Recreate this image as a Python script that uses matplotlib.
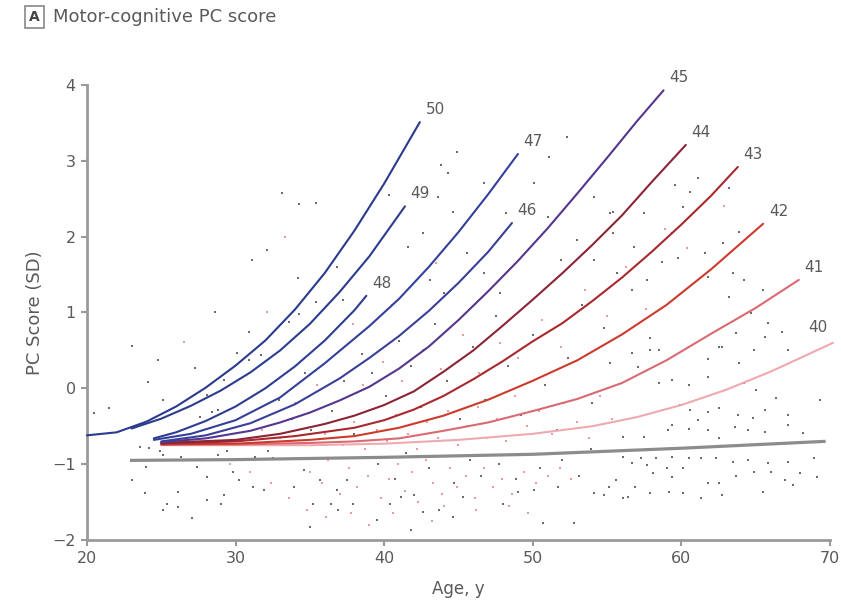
#!/usr/bin/env python
"""
Motor-cognitive PC score vs age, one fitted curve per CAG length
"""

import matplotlib.pyplot as plt

GREY_TXT = "#5a5a5a"

# fitted curves (age, score)
cag_labels = ["50", "49", "48", "47", "46", "45", "44", "43", "42", "41", "40"]
curve_age = {
    "50": [20, 22, 24, 26, 28, 30, 32, 34, 36, 38, 40, 42.4],
    "49": [23, 25, 27, 29, 31, 33, 35, 37, 39, 41.4],
    "48": [24.5, 26, 28, 30, 32, 34, 36, 38, 38.8],
    "47": [24.5, 27, 30, 33, 36, 39, 41, 43, 45, 47, 49],
    "46": [25, 28, 31, 34, 37, 39, 41, 43, 45, 47, 48.6],
    "45": [25, 28, 31, 33, 35, 37, 39, 41, 43, 45, 47, 49, 51, 53, 55, 57, 58.8],
    "44": [25, 30, 33, 36, 38, 40, 42, 44, 46, 48, 50, 52, 54, 56, 58, 60.3],
    "43": [25, 30, 34, 38, 40, 42, 44, 46, 48, 50, 52, 54, 56, 58, 60, 62, 63.8],
    "42": [25, 30, 35, 38, 41, 44, 47, 50, 53, 56, 59, 62, 65.5],
    "41": [25, 30, 35, 38, 41, 44, 47, 50, 53, 56, 59, 62, 65, 67.9],
    "40": [25, 30, 35, 40, 45, 50, 54, 57, 60, 63, 66, 68, 70.2],
}
curve_score = {
    "50": [-0.62, -0.58, -0.44, -0.24, 0.01, 0.30, 0.63, 1.04, 1.52, 2.08, 2.70, 3.51],
    "49": [-0.53, -0.40, -0.23, -0.03, 0.21, 0.50, 0.85, 1.27, 1.74, 2.40],
    "48": [-0.66, -0.58, -0.43, -0.24, 0.00, 0.29, 0.63, 1.03, 1.22],
    "47": [-0.68, -0.60, -0.42, -0.12, 0.33, 0.82, 1.18, 1.60, 2.06, 2.56, 3.09],
    "46": [-0.70, -0.62, -0.46, -0.21, 0.13, 0.40, 0.69, 1.02, 1.39, 1.80, 2.18],
    "45": [-0.71, -0.66, -0.56, -0.45, -0.32, -0.16, 0.02, 0.26, 0.55, 0.90,
           1.28, 1.68, 2.11, 2.57, 3.04, 3.52, 3.93],
    "44": [-0.72, -0.68, -0.60, -0.47, -0.36, -0.22, -0.04, 0.22, 0.50, 0.83,
           1.17, 1.52, 1.89, 2.28, 2.72, 3.21],
    "43": [-0.73, -0.70, -0.63, -0.52, -0.42, -0.28, -0.10, 0.12, 0.36, 0.62,
           0.86, 1.15, 1.46, 1.80, 2.16, 2.54, 2.92],
    "42": [-0.74, -0.73, -0.68, -0.63, -0.52, -0.36, -0.15, 0.10, 0.37, 0.71,
           1.10, 1.57, 2.17],
    "41": [-0.74, -0.74, -0.72, -0.70, -0.66, -0.56, -0.45, -0.30, -0.14, 0.07,
           0.37, 0.72, 1.06, 1.43],
    "40": [-0.75, -0.75, -0.75, -0.73, -0.68, -0.60, -0.50, -0.38, -0.22, -0.02,
           0.22, 0.40, 0.60],
}
curve_color = {
    "50": "#2a3a8c", "49": "#2c3c8e", "48": "#2e3d90", "47": "#33409a",
    "46": "#3a3f98", "45": "#54368e", "44": "#8a2436", "43": "#a8282e",
    "42": "#cc3a2c", "41": "#d96a72", "40": "#eeaab0",
}
# label offset from the curve end, in points
label_offset = {lab: (11, 9) for lab in cag_labels}
label_offset["40"] = (-11, 11)

# control group (grey) trend
control_age = [23, 30, 40, 50, 60, 69.6]
control_score = [-0.95, -0.94, -0.91, -0.87, -0.79, -0.70]

# individual participants (rough reading)
dark_pts = [
    (33.1, 2.58), (34.3, 2.43), (35.4, 2.44), (32.1, 1.82), (31.1, 1.69),
    (34.2, 1.45), (28.6, 1.00), (30.9, 0.74), (33.6, 0.87), (23.0, 0.56),
    (34.3, 0.98), (35.4, 1.14), (37.2, 1.16), (36.8, 1.60), (44.9, 3.12),
    (43.8, 2.95), (52.3, 3.31), (51.1, 3.05), (44.3, 2.84), (40.3, 2.55),
    (43.6, 2.52), (46.7, 2.71), (50.1, 2.71), (44.6, 2.33), (48.2, 2.31),
    (51.0, 2.26), (42.6, 2.05), (41.6, 1.86), (45.6, 1.78), (55.2, 2.31),
    (54.1, 2.52), (55.4, 2.05), (53.0, 1.96), (43.1, 1.43), (46.7, 1.52),
    (47.8, 1.26), (44.0, 1.26), (51.9, 1.69), (54.1, 1.69), (56.8, 1.86),
    (61.1, 2.77), (59.6, 2.68), (60.6, 2.59), (60.1, 2.39), (57.5, 2.31),
    (55.4, 2.32), (63.2, 2.64), (59.4, 2.05), (58.7, 1.67), (59.8, 1.72),
    (61.6, 1.78), (62.8, 1.92), (63.9, 2.06), (61.8, 1.47), (63.5, 1.52),
    (57.7, 1.43), (55.7, 1.52), (56.7, 1.30), (63.2, 1.20), (64.2, 1.43),
    (65.5, 1.30), (64.7, 0.99), (65.8, 0.86), (66.8, 0.74), (67.2, 0.50),
    (63.7, 0.73), (62.5, 0.54), (57.9, 0.66), (58.5, 0.50), (70.3, -0.29),
    (69.3, -0.16), (67.2, -0.35), (66.4, -0.13), (65.6, -0.29), (68.2, -0.59),
    (68.9, -0.92), (68.0, -1.12), (69.1, -1.17), (67.5, -1.28), (67.0, -1.21),
    (65.5, -1.37), (66.0, -1.10), (64.9, -1.10), (63.7, -1.15), (62.5, -1.25),
    (61.8, -1.25), (62.7, -1.41), (61.3, -1.44), (60.1, -1.38), (59.2, -1.37),
    (57.9, -1.38), (56.9, -1.30), (56.1, -1.45), (54.8, -1.41), (55.6, -1.21),
    (58.1, -1.12), (59.4, -1.17), (60.1, -1.05), (59.0, -1.05), (57.7, -1.01),
    (56.7, -0.99), (56.1, -0.91), (57.3, -0.92), (58.3, -0.92), (59.4, -0.91),
    (60.5, -0.92), (61.3, -0.92), (62.3, -0.92), (63.5, -0.97), (64.5, -0.95),
    (65.8, -0.99), (67.2, -0.97), (56.1, -0.64), (57.5, -0.64), (59.1, -0.55),
    (60.5, -0.53), (59.4, -0.49), (61.8, -0.55), (62.5, -0.66), (63.6, -0.51),
    (64.5, -0.55), (65.6, -0.58), (62.5, -0.26), (61.8, -0.31), (60.6, -0.29),
    (59.9, -0.22), (61.1, -0.42), (63.8, -0.35), (64.8, -0.39), (67.2, -0.49),
    (58.5, 0.07), (59.4, 0.11), (60.5, 0.04), (61.8, 0.15), (64.2, 0.07),
    (65.0, -0.02), (63.9, 0.33), (64.9, 0.50), (57.1, 0.28), (57.9, 0.50),
    (55.2, 0.33), (56.7, 0.46), (61.8, 0.39), (62.7, 0.54), (65.6, 0.68),
    (52.8, -1.78), (50.7, -1.78), (41.8, -1.87), (42.6, -1.63), (43.7, -1.61),
    (44.6, -1.70), (40.4, -1.52), (39.5, -1.74), (41.1, -1.43), (42.0, -1.41),
    (45.3, -1.43), (48.0, -1.52), (49.0, -1.37), (50.1, -1.34), (51.7, -1.30),
    (54.1, -1.38), (55.1, -1.30), (56.4, -1.43), (35.0, -1.83), (27.1, -1.71),
    (25.4, -1.52), (26.1, -1.57), (25.1, -1.61), (28.1, -1.47), (29.0, -1.52),
    (23.9, -1.38), (26.1, -1.37), (23.0, -1.21), (28.1, -1.17), (29.2, -1.41),
    (30.2, -1.21), (29.8, -1.10), (31.2, -1.30), (31.9, -1.34), (33.9, -1.30),
    (34.6, -1.08), (35.7, -1.21), (36.8, -1.34), (37.5, -1.21), (37.9, -1.52),
    (36.4, -1.52), (36.9, -1.61), (35.2, -1.52), (24.0, -1.04), (24.9, -0.82),
    (23.6, -0.78), (24.2, -0.79), (25.1, -0.88), (26.3, -0.90), (27.4, -1.04),
    (28.8, -0.88), (29.4, -0.82), (31.3, -0.90), (32.2, -0.82), (32.5, -0.92),
    (24.8, 0.37), (27.3, 0.27), (24.1, 0.08), (25.1, -0.16), (21.5, -0.26),
    (20.5, -0.33), (27.6, -0.38), (28.4, -0.31), (30.1, 0.46), (30.9, 0.37),
    (31.7, 0.44), (29.2, 0.11), (28.1, -0.09), (28.8, -0.29), (38.5, 0.45),
    (39.2, 0.20), (40.1, -0.10), (41.0, 0.62), (41.8, 0.30), (42.5, -0.25),
    (43.4, 0.85), (44.2, 0.10), (45.1, -0.40), (46.0, 0.55), (46.8, -0.15),
    (47.5, 0.95), (48.3, 0.30), (49.2, -0.35), (50.0, 0.70), (50.8, 0.05),
    (51.6, -0.55), (52.4, 0.40), (53.3, 1.10), (54.0, -0.20), (54.8, 0.80),
    (38.0, -0.60), (39.6, -1.00), (40.7, -1.20), (41.5, -0.85), (43.0, -1.05),
    (44.7, -1.25), (45.8, -0.95), (46.5, -1.15), (47.7, -1.00), (48.9, -1.20),
    (50.5, -1.05), (52.0, -0.95), (53.1, -1.15), (53.9, -0.80), (36.5, -0.30),
    (37.3, 0.10), (35.1, -0.55), (33.8, -0.40), (34.7, 0.20), (32.9, -0.15),
]

pink_pts = [
    (33.3, 2.00), (32.1, 1.00), (26.5, 0.61), (35.0, -1.10), (35.8, -1.25),
    (36.2, -0.95), (37.0, -1.40), (37.6, -1.05), (38.2, -1.30), (38.9, -1.15),
    (39.4, -0.90), (39.8, -1.45), (40.3, -1.20), (40.9, -1.00), (41.4, -1.35),
    (41.9, -1.10), (42.3, -1.50), (42.8, -0.95), (43.3, -1.25), (43.9, -1.40),
    (44.4, -1.05), (44.9, -1.30), (45.5, -1.15), (46.1, -1.45), (46.7, -1.05),
    (47.3, -1.30), (47.9, -1.20), (48.6, -1.40), (49.4, -1.10), (50.2, -1.25),
    (51.0, -1.15), (51.8, -1.05), (52.6, -1.20), (36.0, -0.60), (37.2, -0.75),
    (38.0, -0.45), (38.7, -0.80), (39.5, -0.55), (40.2, -0.70), (40.8, -0.35),
    (41.6, -0.60), (42.2, -0.80), (42.9, -0.45), (43.6, -0.65), (44.3, -0.30),
    (45.0, -0.75), (45.6, -0.50), (46.3, -0.25), (46.9, -0.65), (47.6, -0.40),
    (48.2, -0.70), (48.8, -0.10), (49.6, -0.50), (50.4, -0.30), (51.3, -0.60),
    (52.1, -0.20), (53.0, -0.45), (53.8, -0.65), (54.5, -0.10), (55.3, -0.40),
    (38.6, 0.05), (39.9, 0.35), (41.2, 0.10), (42.6, 0.50), (43.8, 0.25),
    (45.3, 0.70), (46.4, 0.20), (47.8, 0.60), (49.0, 0.40), (50.6, 0.90),
    (51.9, 0.55), (53.5, 1.30), (55.0, 0.95), (56.3, 1.60), (57.6, 1.05),
    (58.9, 2.10), (62.9, 2.40), (60.4, 1.85), (35.5, 0.05), (34.0, -0.20),
    (33.0, -0.65), (31.8, -0.55), (30.6, -0.75), (29.6, -1.00), (31.0, -1.10),
    (32.4, -1.25), (33.6, -1.45), (34.8, -1.60), (36.1, -1.70), (37.8, -1.65),
    (39.0, -1.80), (40.6, -1.65), (43.2, -1.75), (44.0, -1.55), (46.2, -1.60),
    (48.4, -1.55), (49.7, -1.65), (37.9, 0.85), (40.5, 1.10), (43.5, 1.65),
]


def main():
    """
    Driver code
    """
    fig = plt.figure(figsize=(8.41, 6.16), dpi=100)
    ax = fig.add_axes([0.1034, 0.1234, 0.8835, 0.7386])

    ax.scatter([p[0] for p in dark_pts], [p[1] for p in dark_pts],
               s=2.5, marker="s", color="#3a3a3a", alpha=0.75, lw=0, zorder=1)
    ax.scatter([p[0] for p in pink_pts], [p[1] for p in pink_pts],
               s=2.5, marker="s", color="#e07a80", alpha=0.75, lw=0, zorder=1)

    ax.plot(control_age, control_score, color="#8c8c8c", lw=2.3, zorder=2)

    for lab in reversed(cag_labels):
        xs, ys = curve_age[lab], curve_score[lab]
        ax.plot(xs, ys, color=curve_color[lab], lw=1.5, zorder=3, clip_on=False,
                solid_capstyle="round", solid_joinstyle="round")
        ax.annotate(lab, (xs[-1], ys[-1]), xytext=label_offset[lab],
                    textcoords="offset points", fontsize=11, color=GREY_TXT,
                    ha="center", va="center", annotation_clip=False)

    ax.set_xlim(20, 70)
    ax.set_ylim(-2, 4)
    ax.set_xticks([20, 30, 40, 50, 60, 70])
    ax.set_yticks([-2, -1, 0, 1, 2, 3, 4])
    for side in ["top", "right"]:
        ax.spines[side].set_visible(False)
    for side in ["left", "bottom"]:
        ax.spines[side].set_color("#9a9a9a")
        ax.spines[side].set_linewidth(2)
    ax.tick_params(colors="#9a9a9a", labelcolor=GREY_TXT, labelsize=11.5,
                   length=4, width=1.5, pad=4)
    ax.set_xlabel("Age, y", fontsize=12, color=GREY_TXT, labelpad=10)
    ax.set_ylabel("PC Score (SD)", fontsize=13, color=GREY_TXT, labelpad=6)

    fig.text(0.063, 0.972, "Motor-cognitive PC score", fontsize=13, color=GREY_TXT,
             ha="left", va="center")
    fig.text(0.041, 0.972, "A", fontsize=10, color="#444444", ha="center", va="center",
             fontweight="bold",
             bbox=dict(boxstyle="square,pad=0.3", fc="white", ec="#888888", lw=1.2))

    fig.savefig("out.png", dpi=100)


if __name__ == "__main__":
    main()
